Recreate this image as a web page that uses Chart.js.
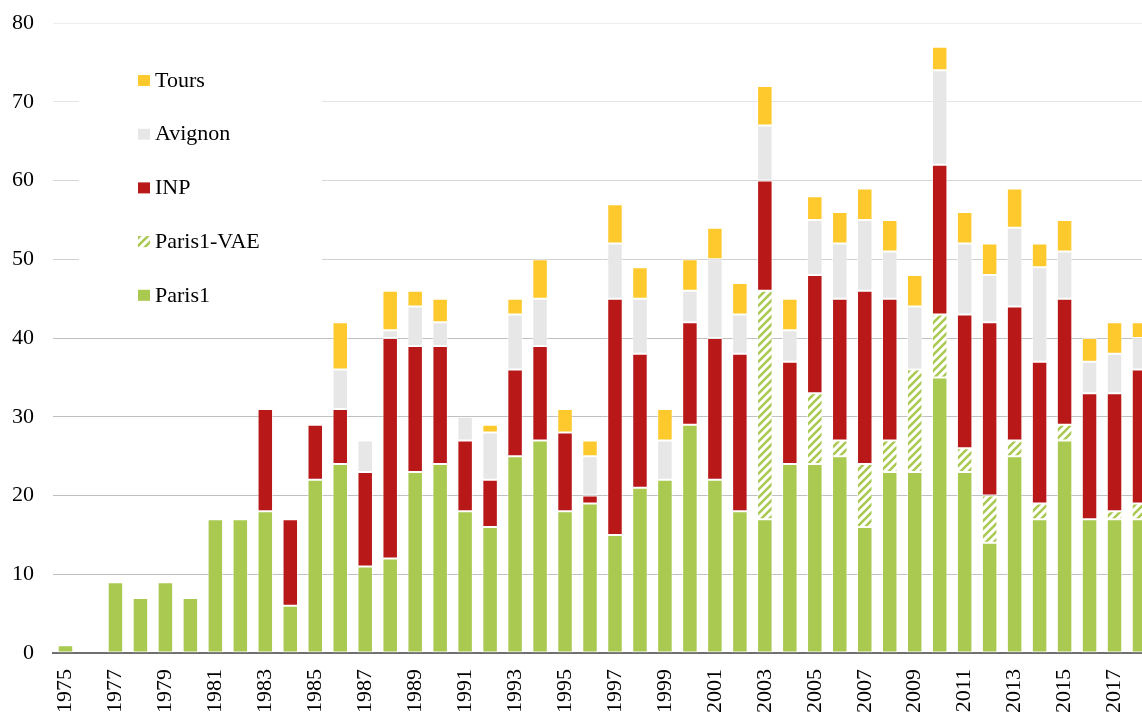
<!DOCTYPE html>
<html>
<head>
<meta charset="utf-8">
<script src="https://cdn.jsdelivr.net/npm/chart.js@4.4.0/dist/chart.umd.min.js"></script>
<style>
  html, body { margin: 0; padding: 0; background: #fff; overflow: hidden; }
  #wrap { width: 1142px; height: 713px; overflow: hidden; }
</style>
</head>
<body>
<div id="wrap"><canvas id="chart" width="1152" height="713"></canvas></div>
<script>
// Années
const years = ['1975','1976','1977','1978','1979','1980','1981','1982','1983','1984',
  '1985','1986','1987','1988','1989','1990','1991','1992','1993','1994',
  '1995','1996','1997','1998','1999','2000','2001','2002','2003','2004',
  '2005','2006','2007','2008','2009','2010','2011','2012','2013','2014',
  '2015','2016','2017','2018'];

// Séries
const paris1 = [1,0,9,7,9,7,17,17,18,6,
  22,24,11,12,23,24,18,16,25,27,
  18,19,15,21,22,29,22,18,17,24,
  24,25,16,23,23,35,23,14,25,17,
  27,17,17,17];
const paris1Vae = [0,0,0,0,0,0,0,0,0,0,
  0,0,0,0,0,0,0,0,0,0,
  0,0,0,0,0,0,0,0,29,0,
  9,2,8,4,13,8,3,6,2,2,
  2,0,1,2];
const inp = [0,0,0,0,0,0,0,0,13,11,
  7,7,12,28,16,15,9,6,11,12,
  10,1,30,17,0,13,18,20,14,13,
  15,18,22,18,0,19,17,22,17,18,
  16,16,15,17];
const avignon = [0,0,0,0,0,0,0,0,0,0,
  0,5,4,1,5,3,3,6,7,6,
  0,5,7,7,5,4,10,5,7,4,
  7,7,9,6,8,12,9,6,10,12,
  6,4,5,4];
const tours = [0,0,0,0,0,0,0,0,0,0,
  0,6,0,5,2,3,0,1,2,5,
  3,2,5,4,4,4,4,4,5,4,
  3,4,4,4,4,3,4,4,5,3,
  4,3,4,2];

const yTicks = [0,10,20,30,40,50,60,70,80];

// Motif hachuré pour Paris1-VAE
function hatch() {
  const c = document.createElement('canvas');
  c.width = 8; c.height = 8;
  const g = c.getContext('2d');
  g.fillStyle = '#fff';
  g.fillRect(0, 0, 8, 8);
  g.strokeStyle = '#a9c951';
  g.lineWidth = 2.6;
  g.beginPath();
  g.moveTo(-2, 2); g.lineTo(2, -2);
  g.moveTo(0, 8); g.lineTo(8, 0);
  g.moveTo(6, 10); g.lineTo(10, 6);
  g.stroke();
  return g.createPattern(c, 'repeat');
}

const font = { family: '"Liberation Serif", "Times New Roman", serif', size: 22 };
const nz = arr => arr.map(v => v || null);

// Légende dessinée dans la zone du graphique
const legendBox = {
  id: 'legendBox',
  afterDraw(chart) {
    const ctx = chart.ctx;
    ctx.save();
    ctx.fillStyle = '#fff';
    ctx.fillRect(79, 36, 243, 288);
    const items = chart.data.datasets.slice().reverse();
    items.forEach((ds, i) => {
      const y = 81 + i * 53.7;
      ctx.fillStyle = ds.backgroundColor;
      ctx.fillRect(138, y - 6, 12, 11);
      ctx.fillStyle = '#000';
      ctx.font = '22px "Liberation Serif"';
      ctx.textBaseline = 'middle';
      ctx.fillText(ds.label, 155, y);
    });
    ctx.restore();
  }
};

const gridColors = {80:'#eeeeee',70:'#e4e4e4',60:'#d6d6d6',50:'#d0d0d0'};

const border = 'rgba(255,255,255,0.55)';
new Chart(document.getElementById('chart'), {
  type: 'bar',
  data: {
    labels: years,
    datasets: [
      { label: 'Paris1', data: nz(paris1), backgroundColor: '#a9c951' },
      { label: 'Paris1-VAE', data: nz(paris1Vae), backgroundColor: hatch() },
      { label: 'INP', data: nz(inp), backgroundColor: '#b91818' },
      { label: 'Avignon', data: nz(avignon), backgroundColor: '#e7e7e7' },
      { label: 'Tours', data: nz(tours), backgroundColor: '#fec92c' }
    ].map(d => Object.assign(d, { borderColor: border, borderWidth: 1, borderSkipped: false,
      barPercentage: 0.62, categoryPercentage: 1 }))
  },
  options: {
    responsive: false,
    animation: false,
    layout: { padding: { top: 23, left: 0, right: 0, bottom: 0 } },
    plugins: { legend: { display: false }, tooltip: { enabled: false } },
    scales: {
      x: {
        stacked: true,
        grid: { display: false },
        border: { display: true, color: '#6f6f6f', width: 2 },
        ticks: {
          autoSkip: false, maxRotation: 90, minRotation: 90, padding: 8,
          color: '#000', font,
          callback: (v, i) => i % 2 === 0 ? years[i] : ''
        },
        afterFit: s => { s.height = 60; s.paddingLeft = 0; s.paddingRight = 0; }
      },
      y: {
        stacked: true, min: 0, max: 80, z: 1,
        afterBuildTicks: s => { s.ticks = yTicks.map(v => ({ value: v })); },
        ticks: { padding: 19, color: '#000', font },
        grid: {
          drawTicks: false, lineWidth: 1,
          color: c => c.tick.value === 0 ? 'rgba(0,0,0,0)' : (gridColors[c.tick.value] || 'rgba(140,140,140,0.55)')
        },
        border: { display: false },
        afterFit: s => { s.width = 53; s.paddingTop = 0; s.paddingBottom = 0; }
      }
    }
  },
  plugins: [legendBox]
});
</script>
</body>
</html>
